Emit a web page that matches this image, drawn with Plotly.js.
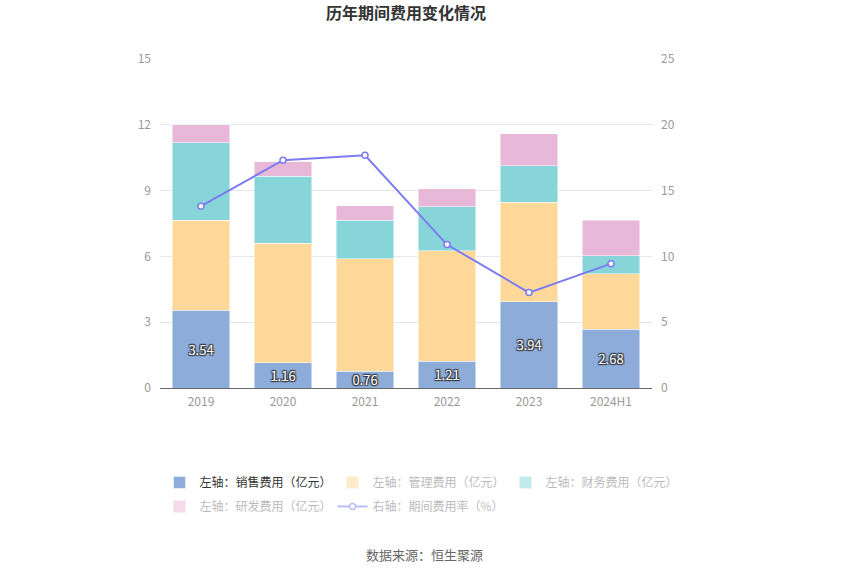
<!DOCTYPE html>
<html><head><meta charset="utf-8">
<script src="https://cdn.plot.ly/plotly-3.0.1.min.js"></script>
<style>html,body{margin:0;padding:0;background:#fff;}#chart{width:850px;height:575px;}</style>
</head><body><div id="chart"></div>
<script>
const years = ['2019','2020','2021','2022','2023','2024H1'];
const sales = [3.54, 1.16, 0.76, 1.21, 3.94, 2.68];
const mgmt = [4.11, 5.45, 5.14, 5.04, 4.53, 2.52];
const fin = [3.53, 3.05, 1.75, 2.02, 1.67, 0.84];
const rd = [0.82, 0.65, 0.65, 0.82, 1.46, 1.61];
const rate = [13.82, 17.31, 17.69, 10.90, 7.25, 9.45];
const names = ['左轴：销售费用（亿元）','左轴：管理费用（亿元）','左轴：财务费用（亿元）','左轴：研发费用（亿元）','右轴：期间费用率（%）'];

const fontFam = '"Noto Sans CJK SC", "Noto Sans", sans-serif';
const barLine = {color:'rgba(255,255,255,0.8)', width:0.6};
const colors = ['#8dacd9','#fed899','#87d5d8','#e8b8d8','#7b7bf2'];
function fadedName(n){ return '<span style="color:#777777">'+n+'</span>'; }

const rateLine = {color:colors[4], width:2};
const rateMarker = {symbol:'circle', size:6, color:'#ffffff', line:{color:colors[4], width:1.5}};

const traces = [
  {type:'bar', x:years, y:sales, name:names[0], marker:{color:colors[0], line:barLine},
   text:sales.map(v=>v.toFixed(2)), textposition:'inside', insidetextanchor:'middle', constraintext:'none',
   textfont:{color:'#ffffff', size:13, family:fontFam, shadow:'1px 1px 1px #333, -1px -1px 1px #333, 1px -1px 1px #333, -1px 1px 1px #333'},
   hoverinfo:'skip', legend:'legend'},
  {type:'bar', x:years, y:mgmt, name:names[1], marker:{color:colors[1], line:barLine}, hoverinfo:'skip', showlegend:false},
  {type:'bar', x:years, y:fin, name:names[2], marker:{color:colors[2], line:barLine}, hoverinfo:'skip', showlegend:false},
  {type:'bar', x:years, y:rd, name:names[3], marker:{color:colors[3], line:barLine}, hoverinfo:'skip', showlegend:false},
  {type:'scatter', mode:'lines+markers', x:years, y:rate, yaxis:'y2', name:names[4],
   line:rateLine, marker:rateMarker, hoverinfo:'skip', showlegend:false},
  // legend entries shown in the faded (inactive) state, as in the reference
  {type:'bar', x:years, y:mgmt, name:fadedName(names[1]), marker:{color:colors[1]}, visible:'legendonly', legend:'legend'},
  {type:'bar', x:years, y:fin, name:fadedName(names[2]), marker:{color:colors[2]}, visible:'legendonly', legend:'legend'},
  {type:'bar', x:years, y:rd, name:fadedName(names[3]), marker:{color:colors[3]}, visible:'legendonly', legend:'legend2'},
  {type:'scatter', mode:'lines+markers', x:years, y:rate, yaxis:'y2', name:fadedName(names[4]),
   line:rateLine, marker:rateMarker, visible:'legendonly', legend:'legend2'}
];

const legendBase = {orientation:'h', xref:'paper', x:-0.001, xanchor:'left', yref:'paper', yanchor:'top',
    traceorder:'normal', entrywidth:128, entrywidthmode:'pixels', font:{size:12, color:'#333333', family:fontFam},
    itemclick:false, itemdoubleclick:false, bgcolor:'rgba(0,0,0,0)'};

const layout = {
  width:850, height:575,
  margin:{l:160, r:198, t:59, b:187},
  paper_bgcolor:'#ffffff', plot_bgcolor:'#ffffff',
  font:{family:fontFam, color:'#999999', size:12},
  title:{text:'<b>历年期间费用变化情况</b>', x:0.5, xref:'paper', xanchor:'center', y:0.977, yanchor:'middle', font:{size:16, color:'#333333', family:fontFam}},
  barmode:'stack', bargap:0.3,
  xaxis:{type:'category', showline:true, linecolor:'#666666', linewidth:1, ticks:'', tickfont:{color:'#999999', size:12}, showgrid:false, zeroline:false, ticklabelstandoff:3},
  yaxis:{range:[0,15], tickvals:[0,3,6,9,12,15], showgrid:true, gridcolor:'#e4e6ee', zeroline:false, showline:false, ticks:'', tickfont:{color:'#999999', size:12}, ticklabelstandoff:8},
  yaxis2:{range:[0,25], tickvals:[0,5,10,15,20,25], overlaying:'y', side:'right', showgrid:false, zeroline:false, showline:false, ticks:'', tickfont:{color:'#999999', size:12}, ticklabelstandoff:8},
  legend:Object.assign({}, legendBase, {y:-0.243}),
  legend2:Object.assign({}, legendBase, {y:-0.316}),
  annotations:[{text:'数据来源：恒生聚源', xref:'paper', yref:'paper', x:0.5386, y:0, xanchor:'center', yanchor:'middle',
    yshift:-166, showarrow:false, font:{size:13, color:'#666666', family:fontFam}}]
};
Plotly.newPlot('chart', traces, layout, {displayModeBar:false, staticPlot:true});
</script></body></html>
